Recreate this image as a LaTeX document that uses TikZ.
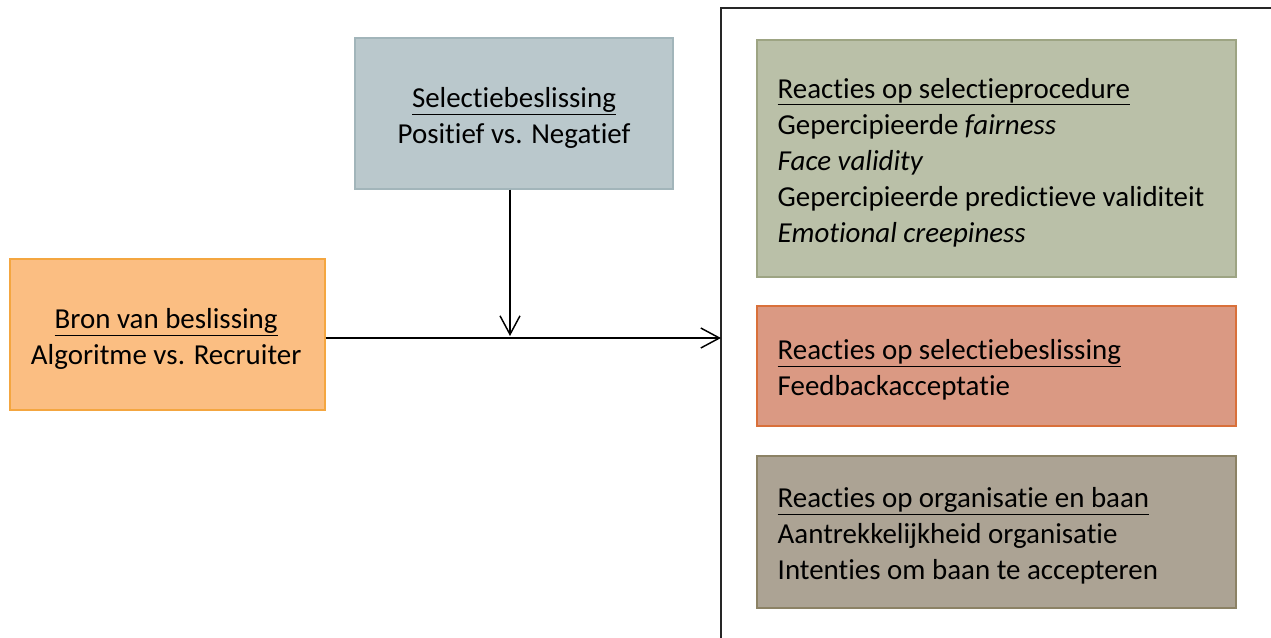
\documentclass[tikz,border=0pt]{standalone}
\usepackage{fontspec}
\setmainfont{Carlito}[Ligatures=NoCommon]
\usetikzlibrary{arrows.meta}
\definecolor{orfill}{HTML}{FBBE82}
\definecolor{ordraw}{HTML}{F4A640}
\definecolor{blfill}{HTML}{BAC8CC}
\definecolor{bldraw}{HTML}{A2B5BA}
\definecolor{grfill}{HTML}{BAC0A8}
\definecolor{grdraw}{HTML}{9DA483}
\definecolor{rdfill}{HTML}{DA9983}
\definecolor{rddraw}{HTML}{D9703A}
\definecolor{brfill}{HTML}{ACA394}
\definecolor{brdraw}{HTML}{8C8265}
\tikzset{
  box/.style={rectangle, line width=0.8pt, inner sep=0pt},
  leftbox/.style={box, minimum width=236.25pt, minimum height=113.25pt},
  rightbox/.style={box, minimum width=359.25pt, minimum height=#1},
  boxtext/.style={font=\fontsize{21.7}{27}\selectfont, inner sep=0pt, align=left, anchor=west},
  ctext/.style={font=\fontsize{21.7}{27}\selectfont, inner sep=0pt, align=center},
  conn/.style={line width=1.1pt, -{Straight Barb[length=14pt,width=15pt,line width=1.1pt]}},
  frameline/.style={line width=1pt, draw=black!85}
}
\begin{document}
\begin{tikzpicture}[x=0.75pt, y=-0.75pt]
\useasboundingbox (0,0) rectangle (1271,637);
\node[leftbox, fill=orfill, draw=ordraw] (bron) at (167.5,334.5) {};
\node[ctext] (brontext) at ([xshift=-1pt,yshift=-3pt]bron.center)
  {\underline{Bron van beslissing}\\Algoritme vs. Recruiter};
\node[leftbox, fill=blfill, draw=bldraw, minimum width=238.5pt] (sel) at (514,113.5) {};
\node[ctext] (seltext) at ([yshift=-3pt]sel.center)
  {\underline{Selectiebeslissing}\\Positief vs. Negatief};
\draw[frameline] (721,640) -- (721,8) -- (1275,8);
\coordinate (fr) at (721,338);
\coordinate (join) at (510,338);
\node[rightbox=177.75pt, fill=grfill, draw=grdraw] (proc) at (996.5,158.5) {};
\node[boxtext] (proctext) at ([xshift=15.75pt,yshift=-3pt]proc.west)
  {\underline{Reacties op selectieprocedure}\\Gepercipieerde \textit{fairness}\\\textit{Face validity}\\Gepercipieerde predictieve validiteit\\\textit{Emotional creepiness}};
\node[rightbox=90pt, fill=rdfill, draw=rddraw] (besl) at (996.5,366) {};
\node[boxtext] (besltext) at ([xshift=15.75pt,yshift=-3pt]besl.west)
  {\underline{Reacties op selectiebeslissing}\\Feedbackacceptatie};
\node[rightbox=114pt, fill=brfill, draw=brdraw] (org) at (996.5,532) {};
\node[boxtext] (orgtext) at ([xshift=15.75pt,yshift=-3pt]org.west)
  {\underline{Reacties op organisatie en baan}\\Aantrekkelijkheid organisatie\\Intenties om baan te accepteren};
\draw[conn] (bron.east |- join) -- (fr);
\draw[conn] (sel.south -| join) -- ([yshift=1.5pt]join);
\end{tikzpicture}
\end{document}
